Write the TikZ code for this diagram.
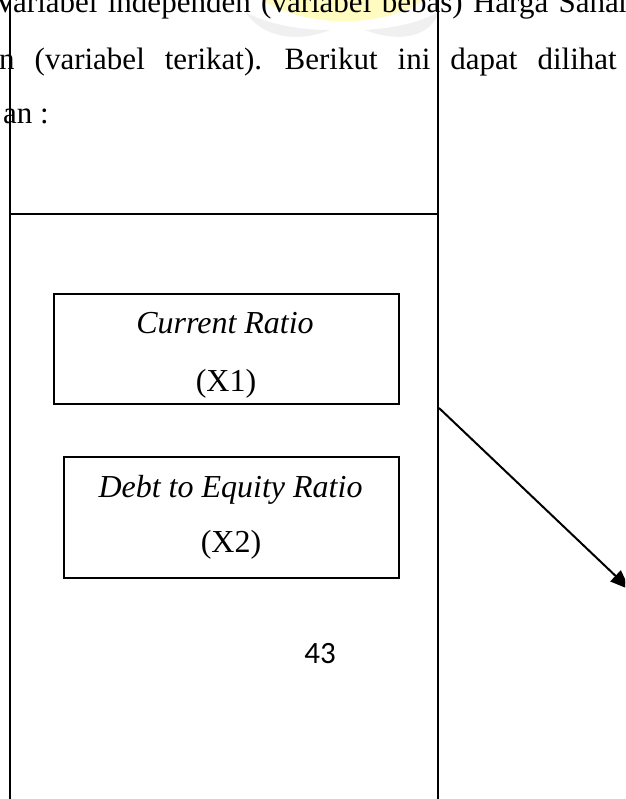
\documentclass[tikz,border=0pt]{standalone}
\usepackage{fontspec}
\setmainfont{Liberation Serif}
\newfontfamily\numfont{Carlito}
\usetikzlibrary{arrows.meta}
\tikzset{
  frameline/.style={line width=2pt,black},
  varbox/.style={draw=black,line width=2pt,rectangle,inner sep=0pt},
  bodytext/.style={inner sep=0pt,font=\fontsize{31}{58}\selectfont},
  boxtext/.style={inner sep=0pt,anchor=base,font=\fontsize{32}{58}\selectfont},
  arrowline/.style={line width=2pt,-{Triangle[length=20pt,width=15pt]}},
}
\begin{document}
\begin{tikzpicture}[x=1pt,y=-1pt]
\useasboundingbox (0,0) rectangle (625,799);
\clip (0,0) rectangle (625,799);
% faint watermark
\fill[yellow!35!white,opacity=0.7] (255,-5) .. controls (300,30) and (390,30) .. (430,-5) -- cycle;
\fill[gray!15,opacity=0.8] (245,12) .. controls (265,40) and (300,42) .. (330,30) .. controls (300,30) and (270,25) .. (245,12) -- cycle;
\fill[gray!15,opacity=0.8] (440,10) .. controls (430,40) and (395,42) .. (365,30) .. controls (395,28) and (425,22) .. (440,10) -- cycle;
% top text
\node[bodytext,anchor=base west] (t1) at (-6,13) {\spaceskip=10.4pt Variabel independen (variabel bebas) Harga Saham};
\node[bodytext,anchor=base west] (t2) at (-1,70) {\spaceskip=20pt n (variabel terikat). Berikut ini dapat dilihat};
\node[bodytext,anchor=base west] (t3) at (3,124) {an :};
% frame lines
\coordinate (lt) at (9.5,-2);
\coordinate (lb) at (9.5,801);
\coordinate (rt) at (438,-2);
\coordinate (rb) at (438,801);
\coordinate (hl) at (9.5,214);
\coordinate (hr) at (438,214);
\draw[frameline] (lt) -- (lb);
\draw[frameline] (rt) -- (rb);
\draw[frameline] (hl) -- (hr);
% boxes
\node[varbox,minimum width=345pt,minimum height=110pt] (x1) at (226.5,349) {};
\node[boxtext] (x1a) at (225,333) {\itshape Current Ratio};
\node[boxtext] (x1b) at (226,391) {(X1)};
\node[varbox,minimum width=335pt,minimum height=121pt] (x2) at (231.5,517.5) {};
\node[boxtext] (x2a) at (230.5,497) {\itshape Debt to Equity Ratio};
\node[boxtext] (x2b) at (231,552) {(X2)};
% page number
\node[inner sep=0pt,anchor=base,font=\numfont\fontsize{31}{32}\selectfont] (pg) at (320,663) {43};
% arrow
\coordinate (a1) at (439,408);
\coordinate (a2) at (630,589.6);
\draw[arrowline] (a1) -- (a2);
\end{tikzpicture}
\end{document}
